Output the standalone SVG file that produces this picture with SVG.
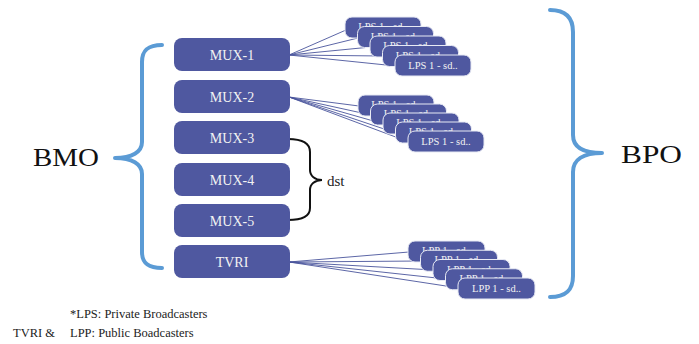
<svg xmlns="http://www.w3.org/2000/svg" width="699" height="344" viewBox="0 0 699 344">
<style>
.mux{fill:#4f58a0;}
.mt{font-family:"Liberation Serif","DejaVu Serif","Times New Roman",serif;font-size:14px;fill:#f2f2f2;text-anchor:middle;}
.lb{fill:#4f58a0;stroke:#e8eaf4;stroke-width:1;}
.lt{font-family:"Liberation Serif","DejaVu Serif","Times New Roman",serif;font-size:10.5px;fill:#f2f2f2;text-anchor:middle;}
.big{font-family:"Liberation Serif","DejaVu Serif","Times New Roman",serif;font-size:26px;fill:#111;}
.brace{fill:none;stroke:#5b9bd5;stroke-width:4;stroke-linecap:round;stroke-linejoin:round;}
.fan{fill:none;stroke:#4a559c;stroke-width:0.9;}
.note{font-family:"Liberation Serif","DejaVu Serif","Times New Roman",serif;font-size:12.5px;fill:#222;}
.dst{font-family:"Liberation Serif","DejaVu Serif","Times New Roman",serif;font-size:15px;fill:#222;}
</style>
<rect width="699" height="344" fill="#ffffff"/>

<g id="braces">
<path class="brace" d="M162,45 C148,45 142,50 142,62 L142,142 C142,152 132,158 115,158 C132,158 142,164 142,174 L142,252 C142,263 148,268 162,268"/>
<path class="brace" d="M550,10 C566,10 573,18 573,32 L573,135 C573,147 583,153 602,153 C583,153 573,160 573,172 L573,276 C573,290 566,297 550,297"/>
<path d="M288,139 C302,139 310,143 310,152 L310,170 C310,176 315,180 322,180 C315,180 310,184 310,190 L310,208 C310,216 302,220 288,220" fill="none" stroke="#111" stroke-width="2"/>
</g>

<g id="labels">
<text class="big" x="33" y="166" textLength="66" lengthAdjust="spacingAndGlyphs">BMO</text>
<text class="big" x="621" y="163" textLength="61" lengthAdjust="spacingAndGlyphs">BPO</text>
<text class="dst" x="327" y="186">dst</text>
</g>

<g id="connectors">
<path class="fan" d="M289,55 L346,30 M289,55 L358,38 M289,55 L371,47 M289,55 L383,56 M289,55 L396,66"/>
<path class="fan" d="M289,97 L359,106 M289,97 L371,115 M289,97 L384,124 M289,97 L396,133 M289,97 L409,142"/>
<path class="fan" d="M289,262 L409,252 M289,262 L421,261 M289,262 L434,270 M289,262 L446,279 M289,262 L459,288"/>
</g>

<g id="mux-1"><rect class="mux" x="174" y="38" width="116" height="33" rx="8"/><text class="mt" x="232" y="60">MUX-1</text></g>
<g id="mux-2"><rect class="mux" x="174" y="80" width="116" height="33" rx="8"/><text class="mt" x="232" y="102">MUX-2</text></g>
<g id="mux-3"><rect class="mux" x="174" y="121" width="116" height="33" rx="8"/><text class="mt" x="232" y="143">MUX-3</text></g>
<g id="mux-4"><rect class="mux" x="174" y="163" width="116" height="33" rx="8"/><text class="mt" x="232" y="185">MUX-4</text></g>
<g id="mux-5"><rect class="mux" x="174" y="204" width="116" height="33" rx="8"/><text class="mt" x="232" y="226">MUX-5</text></g>
<g id="tvri"><rect class="mux" x="174" y="245" width="116" height="33" rx="8"/><text class="mt" x="232" y="267">TVRI</text></g>

<g id="lps-group-1">
<rect class="lb" x="345" y="17" width="76" height="21" rx="7"/><text class="lt" x="383" y="30">LPS 1 - sd..</text>
<rect class="lb" x="357.5" y="26.5" width="76" height="21" rx="7"/><text class="lt" x="395.5" y="39.5">LPS 1 - sd..</text>
<rect class="lb" x="370" y="36" width="76" height="21" rx="7"/><text class="lt" x="408" y="49">LPS 1 - sd..</text>
<rect class="lb" x="382.5" y="45.5" width="76" height="21" rx="7"/><text class="lt" x="420.5" y="58.5">LPS 1 - sd..</text>
<rect class="lb" x="395" y="55" width="76" height="21" rx="7"/><text class="lt" x="433" y="69">LPS 1 - sd..</text>
</g>

<g id="lps-group-2">
<rect class="lb" x="358" y="95" width="76" height="21" rx="7"/><text class="lt" x="396" y="108">LPS 1 - sd..</text>
<rect class="lb" x="370.5" y="104" width="76" height="21" rx="7"/><text class="lt" x="408.5" y="117">LPS 1 - sd..</text>
<rect class="lb" x="383" y="113" width="76" height="21" rx="7"/><text class="lt" x="421" y="126">LPS 1 - sd..</text>
<rect class="lb" x="395.5" y="122" width="76" height="21" rx="7"/><text class="lt" x="433.5" y="135">LPS 1 - sd..</text>
<rect class="lb" x="408" y="131" width="76" height="21" rx="7"/><text class="lt" x="446" y="145">LPS 1 - sd..</text>
</g>

<g id="lpp-group">
<rect class="lb" x="408" y="241" width="77" height="21" rx="7"/><text class="lt" x="446.5" y="254">LPP 1 - sd..</text>
<rect class="lb" x="420.5" y="250.25" width="77" height="21" rx="7"/><text class="lt" x="459" y="263.25">LPP 1 - sd..</text>
<rect class="lb" x="433" y="259.5" width="77" height="21" rx="7"/><text class="lt" x="471.5" y="272.5">LPP 1 - sd..</text>
<rect class="lb" x="445.5" y="268.75" width="77" height="21" rx="7"/><text class="lt" x="484" y="281.75">LPP 1 - sd..</text>
<rect class="lb" x="458" y="278" width="77" height="21" rx="7"/><text class="lt" x="496.5" y="292">LPP 1 - sd..</text>
</g>

<g id="footnote">
<text class="note" x="70" y="318">*LPS: Private Broadcasters</text>
<text class="note" x="13" y="337">TVRI &amp;</text>
<text class="note" x="70" y="337">LPP: Public Boadcasters</text>
</g>
</svg>
